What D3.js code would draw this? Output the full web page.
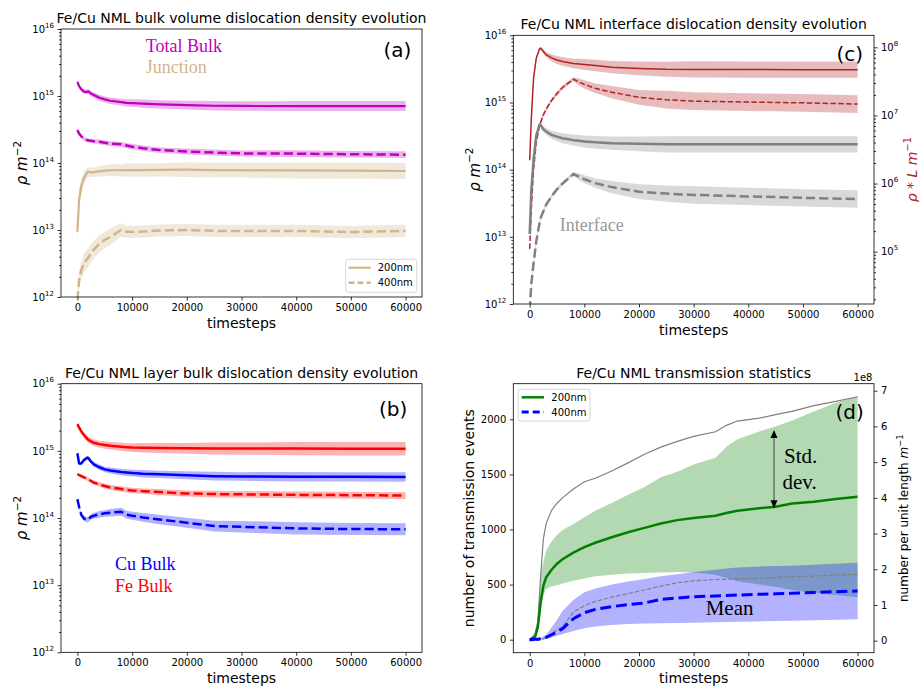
<!DOCTYPE html>
<html><head><meta charset="utf-8">
<script src="https://cdn.jsdelivr.net/npm/d3@7"></script>
<style>body{margin:0;background:#fff} svg{display:block}</style>
</head><body><svg id="chart" width="919" height="689"></svg>
<script>
// ---------------- DATA ----------------
const timesteps = [0,300,700,1200,1800,2000,2500,3000,4000,5000,6000,8000,9000,10000,12000,15000,20000,25000,30000,40000,50000,60000];
const xTickValues = [0,10000,20000,30000,40000,50000,60000];
const logMajorTicks = [1e12,1e13,1e14,1e15,1e16];

// (a) bulk volume dislocation density (m^-2); bands are half-widths in decades
const totalBulk200 = [1.63e15,1.41e15,1.26e15,1.16e15,1.15e15,1.17e15,1.08e15,1.035e15,9.4e14,8.9e14,8.5e14,8.1e14,7.9e14,7.85e14,7.7e14,7.5e14,7.3e14,7.15e14,7.1e14,7.08e14,7.08e14,7.08e14];
const totalBulk200Band = [0.03,0.03,0.035,0.035,0.035,0.035,0.04,0.04,0.045,0.045,0.05,0.05,0.055,0.055,0.06,0.06,0.065,0.07,0.07,0.075,0.075,0.075];
const totalBulk400 = [3.1e14,2.75e14,2.5e14,2.3e14,2.19e14,2.16e14,2.14e14,2.11e14,2.07e14,2.0e14,1.95e14,1.9e14,1.82e14,1.75e14,1.66e14,1.56e14,1.48e14,1.43e14,1.39e14,1.38e14,1.35e14,1.33e14];
const totalBulk400Band = [0.02,0.025,0.03,0.03,0.03,0.03,0.03,0.03,0.035,0.035,0.035,0.035,0.04,0.04,0.04,0.04,0.045,0.045,0.045,0.05,0.05,0.05];
const junction200 = [9.4e12,2.8e13,4.5e13,6.0e13,7.2e13,7.4e13,7.2e13,7.3e13,7.5e13,7.7e13,7.8e13,7.8e13,7.85e13,7.85e13,7.85e13,7.9e13,7.95e13,7.85e13,7.8e13,7.75e13,7.7e13,7.6e13];
const junction200Band = [0.15,0.15,0.12,0.1,0.08,0.07,0.07,0.07,0.08,0.08,0.09,0.09,0.1,0.1,0.1,0.1,0.11,0.11,0.11,0.12,0.12,0.12];
const junction400 = [8.9e11,1.78e12,2.5e12,3.2e12,3.7e12,3.9e12,4.5e12,5.1e12,6.2e12,7.1e12,7.9e12,1.0e13,9.4e12,9.4e12,9.5e12,9.8e12,1.0e13,9.7e12,9.7e12,9.7e12,9.3e12,9.7e12];
const junction400Band = [0.1,0.12,0.13,0.14,0.14,0.14,0.14,0.13,0.13,0.12,0.12,0.1,0.09,0.09,0.09,0.09,0.09,0.09,0.09,0.09,0.09,0.09];

// (b) layer bulk dislocation density
const feBulk200 = [2.5e15,2.24e15,1.95e15,1.72e15,1.51e15,1.46e15,1.38e15,1.32e15,1.26e15,1.22e15,1.19e15,1.15e15,1.135e15,1.12e15,1.115e15,1.10e15,1.09e15,1.085e15,1.08e15,1.08e15,1.077e15,1.077e15];
const feBulk200Band = [0.02,0.03,0.035,0.04,0.045,0.045,0.05,0.05,0.05,0.055,0.055,0.06,0.06,0.065,0.07,0.075,0.08,0.09,0.09,0.1,0.1,0.1];
const cuBulk200 = [9.2e14,6.5e14,6.5e14,7.3e14,7.9e14,7.85e14,6.9e14,6.3e14,5.7e14,5.3e14,5.1e14,4.84e14,4.75e14,4.68e14,4.57e14,4.47e14,4.32e14,4.2e14,4.15e14,4.12e14,4.1e14,4.07e14];
const cuBulk200Band = [0.02,0.02,0.025,0.025,0.03,0.03,0.03,0.035,0.04,0.04,0.045,0.05,0.05,0.05,0.055,0.055,0.06,0.065,0.065,0.07,0.07,0.07];
const feBulk400 = [4.5e14,4.37e14,4.22e14,4.04e14,3.85e14,3.76e14,3.55e14,3.36e14,3.16e14,2.99e14,2.85e14,2.7e14,2.63e14,2.57e14,2.51e14,2.43e14,2.32e14,2.27e14,2.25e14,2.21e14,2.19e14,2.16e14];
const feBulk400Band = [0.02,0.02,0.025,0.025,0.03,0.03,0.03,0.03,0.035,0.035,0.035,0.04,0.04,0.04,0.04,0.045,0.045,0.05,0.05,0.05,0.05,0.05];
const cuBulk400 = [1.9e14,1.47e14,1.12e14,9.8e13,9.4e13,9.5e13,1.05e14,1.08e14,1.135e14,1.175e14,1.2e14,1.24e14,1.12e14,1.08e14,1.02e14,9.5e13,8.5e13,7.6e13,7.4e13,7.0e13,6.85e13,6.8e13];
const cuBulk400Band = [0.03,0.03,0.03,0.035,0.04,0.04,0.04,0.045,0.05,0.05,0.055,0.06,0.06,0.06,0.065,0.07,0.075,0.08,0.085,0.09,0.09,0.09];

// (c) interface dislocation density; rhoL on right axis (m^-1), interface on left axis (m^-2)
const rhoL200 = [2.2e6,9.1e6,3.5e7,6.9e7,9.5e7,9.7e7,8.7e7,7.8e7,7.0e7,6.5e7,6.2e7,5.8e7,5.7e7,5.6e7,5.4e7,5.1e7,4.9e7,4.75e7,4.73e7,4.71e7,4.7e7,4.69e7];
const rhoL200Band = [0.01,0.01,0.01,0.015,0.02,0.02,0.03,0.04,0.05,0.06,0.065,0.07,0.075,0.08,0.085,0.09,0.1,0.11,0.12,0.12,0.12,0.12];
const rhoL400 = [1.1e5,4.3e5,1.6e6,4.0e6,7.1e6,7.9e6,1.02e7,1.23e7,1.66e7,2.1e7,2.57e7,3.4e7,3.1e7,2.85e7,2.5e7,2.19e7,1.84e7,1.7e7,1.62e7,1.57e7,1.53e7,1.47e7];
const rhoL400Band = [0.03,0.03,0.03,0.03,0.03,0.03,0.03,0.03,0.03,0.03,0.03,0.03,0.05,0.06,0.07,0.09,0.11,0.13,0.13,0.13,0.13,0.13];
const interface200 = [1.1e13,5e13,1.4e14,3.2e14,4.7e14,4.6e14,4.0e14,3.7e14,3.3e14,3.1e14,2.94e14,2.75e14,2.69e14,2.63e14,2.55e14,2.48e14,2.42e14,2.38e14,2.38e14,2.38e14,2.38e14,2.38e14];
const interface200Band = [0.02,0.02,0.02,0.02,0.03,0.03,0.04,0.05,0.06,0.07,0.075,0.08,0.085,0.09,0.095,0.1,0.11,0.12,0.12,0.12,0.12,0.12];
const interface400 = [8e11,2e12,4e12,8.5e12,1.6e13,1.9e13,2.4e13,3.0e13,4.0e13,5.1e13,6.2e13,8.6e13,7.85e13,7.2e13,6.3e13,5.5e13,4.7e13,4.4e13,4.2e13,4.0e13,3.8e13,3.66e13];
const interface400Band = [0.05,0.05,0.05,0.05,0.04,0.04,0.04,0.04,0.03,0.03,0.03,0.03,0.05,0.06,0.07,0.09,0.11,0.12,0.13,0.13,0.13,0.13];

// (d) transmission statistics
const timestepsD = [0,1000,1500,2000,2500,3000,4000,5000,6000,8000,10000,12000,15000,18000,21000,24000,27000,30000,34000,36000,38000,42000,45000,48000,52000,56000,60000];
const trans200Mean = [0,27,118,340,490,565,635,690,730,790,840,880,930,975,1015,1055,1085,1105,1125,1150,1170,1192,1207,1235,1252,1277,1298];
const trans200Low  = [0,20,80,250,400,460,485,495,510,535,555,575,590,600,605,610,615,610,590,560,530,500,480,450,425,405,385];
const trans200High = [0,35,160,600,700,810,890,950,995,1050,1110,1170,1240,1315,1385,1475,1525,1590,1650,1750,1820,1890,1935,1990,2070,2150,2210];
const trans400Mean = [0,3,5,8,12,22,45,70,100,190,245,275,300,318,333,365,378,390,397,400,405,412,416,421,428,436,442];
const trans400Low  = [0,0,0,0,2,5,20,35,50,80,105,120,133,142,146,150,152,154,158,160,162,166,169,172,176,180,185];
const trans400High = [0,8,12,20,30,45,110,180,260,360,430,465,500,528,550,575,595,615,635,645,655,665,668,672,680,690,699];
const perLength200 = [0,0.2,0.55,1.8,2.85,3.28,3.65,3.85,4.0,4.25,4.45,4.55,4.75,4.98,5.22,5.42,5.58,5.72,5.85,6.03,6.15,6.23,6.33,6.42,6.58,6.7,6.83]; // x1e8
const perLength400 = [0,0.01,0.02,0.03,0.05,0.1,0.2,0.3,0.39,0.8,0.98,1.1,1.22,1.32,1.42,1.53,1.62,1.68,1.71,1.72,1.73,1.75,1.77,1.79,1.81,1.84,1.86]; // x1e8
const transTicksLeft = [0,500,1000,1500,2000];
const transTicksRight = [0,1,2,3,4,5,6,7];
const stdArrow = {t: 44700, from: 1903, to: 1192};

// ---------------- DRAWING ----------------
const svg = d3.select("#chart");
const SANS = "DejaVu Sans, sans-serif";
const SERIF = "Liberation Serif, Times New Roman, serif";
const xDomain = [-3000, 63000];

const boxA = {l:61, r:422, t:29, b:297};
const boxB = {l:61, r:422, t:383.7, b:652.3};
const boxC = {l:513.3, r:874, t:35.3, b:304};
const boxD = {l:513.3, r:874, t:383.7, b:652.7};

const defs = svg.append("defs");
let clipCount = 0;
function clipFor(box){
  const id = "clip" + (clipCount++);
  defs.append("clipPath").attr("id", id).append("rect")
    .attr("x", box.l).attr("y", box.t).attr("width", box.r-box.l).attr("height", box.b-box.t);
  return `url(#${id})`;
}
function styleAxis(sel){
  sel.attr("font-family", null).attr("font-size", null);
  sel.select(".domain").remove();
  sel.selectAll(".tick line").attr("stroke", "#000").attr("stroke-width", 0.8);
  sel.selectAll(".tick text").attr("fill", "#000").attr("font-size", 10).attr("font-family", SANS);
}
function logLabels(sel){
  sel.selectAll(".tick text").each(function(d){
    const t = d3.select(this); t.text("");
    t.append("tspan").text("10");
    t.append("tspan").attr("font-size", 7).attr("dy", -5).text(Math.round(Math.log10(d)));
  });
}
function frame(box){
  svg.append("rect").attr("x", box.l).attr("y", box.t).attr("width", box.r-box.l).attr("height", box.b-box.t)
    .attr("fill", "none").attr("stroke", "#000").attr("stroke-width", 0.8);
}
function title(box, txt){
  svg.append("text").attr("x", (box.l+box.r)/2).attr("y", box.t-6.2).attr("text-anchor","middle")
    .attr("font-family", SANS).attr("font-size", 14).attr("fill","#000").text(txt);
}
function xAxis(box, x){
  const g = svg.append("g").attr("transform", `translate(0,${box.b})`)
    .call(d3.axisBottom(x).tickValues(xTickValues).tickSize(3.5).tickPadding(3.5).tickFormat(d3.format("d")));
  styleAxis(g);
  svg.append("text").attr("x", (box.l+box.r)/2).attr("y", box.b+30.5).attr("text-anchor","middle")
    .attr("font-family", SANS).attr("font-size", 14).attr("fill","#000").text("timesteps");
}
function logYAxis(box, y, side){
  const isLeft = side === "left";
  const axisFn = isLeft ? d3.axisLeft : d3.axisRight;
  const major = y.ticks().filter(v => Math.abs(Math.log10(v) - Math.round(Math.log10(v))) < 1e-9);
  const minor = y.ticks().filter(v => Math.abs(Math.log10(v) - Math.round(Math.log10(v))) >= 1e-9);
  const gMin = svg.append("g").attr("transform", `translate(${isLeft?box.l:box.r},0)`)
    .call(axisFn(y).tickValues(minor).tickSize(2).tickFormat(""));
  styleAxis(gMin);
  const gMaj = svg.append("g").attr("transform", `translate(${isLeft?box.l:box.r},0)`)
    .call(axisFn(y).tickValues(major).tickSize(3.5).tickPadding(3.5));
  styleAxis(gMaj); logLabels(gMaj);
}
function rotLabel(cx, cy, parts, size, color){
  const t = svg.append("text").attr("transform", `translate(${cx},${cy}) rotate(-90)`)
    .attr("text-anchor","middle").attr("dy","0.35em").attr("font-family", SANS).attr("font-size", size).attr("fill", color||"#000");
  parts.forEach(p => {
    const s = t.append("tspan").text(p.text);
    if (p.italic) s.attr("font-style","italic");
    if (p.sup) s.attr("font-size", size*0.7).attr("dy", -size*0.42);
  });
}
function drawSeries(plot, x, y, ts, vals, band, o){
  const area = d3.area()
    .x((d,i) => x(ts[i]))
    .y0((d,i) => y(d / Math.pow(10, band[i])))
    .y1((d,i) => y(d * Math.pow(10, band[i])));
  plot.append("path").datum(vals).attr("d", area).attr("fill", o.color).attr("fill-opacity", o.bandOpacity || 0.3).attr("stroke","none");
}
function drawLine(plot, x, y, ts, vals, o){
  const line = d3.line().x((d,i) => x(ts[i])).y(d => y(d));
  plot.append("path").datum(vals).attr("d", line).attr("fill","none")
    .attr("stroke", o.color).attr("stroke-width", o.width).attr("stroke-dasharray", o.dash || null)
    .attr("stroke-linejoin","round");
}
function serifText(x, y, txt, size, color){
  svg.append("text").attr("x", x).attr("y", y).attr("font-family", SERIF).attr("font-size", size).attr("fill", color).text(txt);
}
function panelTag(x, y, txt){
  svg.append("text").attr("x", x).attr("y", y).attr("font-family", SANS).attr("font-size", 20).attr("fill","#000").text(txt);
}

const MAG = "#bf00bf", TAN = "#d2b48c", RED = "#ff0000", BLUE = "#0000ff", FIRE = "#b22222", GREY = "#808080", GREEN = "#008000";

// ---------- Panel (a) ----------
(function(){
  const box = boxA;
  const x = d3.scaleLinear().domain(xDomain).range([box.l, box.r]);
  const y = d3.scaleLog().domain([1e12,1e16]).range([box.b, box.t]);
  const plot = svg.append("g").attr("clip-path", clipFor(box));
  drawSeries(plot, x, y, timesteps, totalBulk200, totalBulk200Band, {color: MAG});
  drawSeries(plot, x, y, timesteps, totalBulk400, totalBulk400Band, {color: MAG});
  drawSeries(plot, x, y, timesteps, junction200, junction200Band, {color: TAN});
  drawSeries(plot, x, y, timesteps, junction400, junction400Band, {color: TAN});
  drawLine(plot, x, y, timesteps, totalBulk200, {color: MAG, width: 2.2});
  drawLine(plot, x, y, timesteps, totalBulk400, {color: MAG, width: 2.5, dash: "9.25,4"});
  drawLine(plot, x, y, timesteps, junction200, {color: TAN, width: 2.2});
  drawLine(plot, x, y, timesteps, junction400, {color: TAN, width: 2.5, dash: "9.25,4"});
  frame(box); xAxis(box, x); logYAxis(box, y, "left");
  title(box, "Fe/Cu NML bulk volume dislocation density evolution");
  rotLabel(21.7, (box.t+box.b)/2, [{text:"ρ m", italic:true},{text:"−2", italic:false, sup:true}], 15);
  serifText(145.7, 51.5, "Total Bulk", 18, MAG);
  serifText(145.7, 72.5, "Junction", 18, TAN);
  panelTag(383.5, 57.4, "(a)");
  // legend
  const lg = svg.append("g");
  lg.append("rect").attr("x",345.7).attr("y",259.3).attr("width",71).attr("height",33).attr("rx",2.5)
    .attr("fill","#fff").attr("fill-opacity",0.8).attr("stroke","#ccc").attr("stroke-width",0.8);
  lg.append("line").attr("x1",348.5).attr("x2",370.7).attr("y1",267.7).attr("y2",267.7).attr("stroke",TAN).attr("stroke-width",2.2);
  lg.append("line").attr("x1",348.5).attr("x2",370.7).attr("y1",282.7).attr("y2",282.7).attr("stroke",TAN).attr("stroke-width",2.5).attr("stroke-dasharray","6,3");
  lg.append("text").attr("x",377.7).attr("y",271.3).attr("font-family",SANS).attr("font-size",10).text("200nm");
  lg.append("text").attr("x",377.7).attr("y",286.3).attr("font-family",SANS).attr("font-size",10).text("400nm");
})();

// ---------- Panel (b) ----------
(function(){
  const box = boxB;
  const x = d3.scaleLinear().domain(xDomain).range([box.l, box.r]);
  const y = d3.scaleLog().domain([1e12,1e16]).range([box.b, box.t]);
  const plot = svg.append("g").attr("clip-path", clipFor(box));
  drawSeries(plot, x, y, timesteps, feBulk200, feBulk200Band, {color: RED});
  drawSeries(plot, x, y, timesteps, cuBulk200, cuBulk200Band, {color: BLUE});
  drawSeries(plot, x, y, timesteps, feBulk400, feBulk400Band, {color: RED});
  drawSeries(plot, x, y, timesteps, cuBulk400, cuBulk400Band, {color: BLUE});
  drawLine(plot, x, y, timesteps, feBulk200, {color: RED, width: 2.5});
  drawLine(plot, x, y, timesteps, cuBulk200, {color: BLUE, width: 2.5});
  drawLine(plot, x, y, timesteps, feBulk400, {color: RED, width: 2.5, dash: "9.25,4"});
  drawLine(plot, x, y, timesteps, cuBulk400, {color: BLUE, width: 2.5, dash: "9.25,4"});
  frame(box); xAxis(box, x); logYAxis(box, y, "left");
  title(box, "Fe/Cu NML layer bulk dislocation density evolution");
  rotLabel(21.7, (box.t+box.b)/2, [{text:"ρ m", italic:true},{text:"−2", sup:true}], 15);
  serifText(115, 570, "Cu Bulk", 18, BLUE);
  serifText(115, 591.7, "Fe Bulk", 18, RED);
  panelTag(379, 415.7, "(b)");
})();

// ---------- Panel (c) ----------
(function(){
  const box = boxC;
  const x = d3.scaleLinear().domain(xDomain).range([box.l, box.r]);
  const y = d3.scaleLog().domain([1e12,1e16]).range([box.b, box.t]);
  const yR = d3.scaleLog().domain([Math.pow(10,4.232), Math.pow(10,8.176)]).range([box.b, box.t]);
  const plot = svg.append("g").attr("clip-path", clipFor(box));
  drawSeries(plot, x, yR, timesteps, rhoL200, rhoL200Band, {color: FIRE, bandOpacity: 0.3});
  drawSeries(plot, x, yR, timesteps, rhoL400, rhoL400Band, {color: FIRE, bandOpacity: 0.3});
  drawSeries(plot, x, y, timesteps, interface200, interface200Band, {color: GREY, bandOpacity: 0.3});
  drawSeries(plot, x, y, timesteps, interface400, interface400Band, {color: GREY, bandOpacity: 0.3});
  drawLine(plot, x, yR, timesteps, rhoL200, {color: FIRE, width: 1.5});
  drawLine(plot, x, yR, timesteps, rhoL400, {color: FIRE, width: 1.5, dash: "5.5,2.4"});
  drawLine(plot, x, y, timesteps, interface200, {color: GREY, width: 2.5});
  drawLine(plot, x, y, timesteps, interface400, {color: GREY, width: 2.5, dash: "9.25,4"});
  frame(box); xAxis(box, x); logYAxis(box, y, "left"); logYAxis(box, yR, "right");
  title(box, "Fe/Cu NML interface dislocation density evolution");
  rotLabel(474.5, (box.t+box.b)/2, [{text:"ρ m", italic:true},{text:"−2", sup:true}], 15);
  rotLabel(912, (box.t+box.b)/2, [{text:"ρ * L m", italic:true},{text:"−1", sup:true}], 14, FIRE);
  serifText(559.7, 231, "Interface", 18, "#999999");
  panelTag(836.5, 60.7, "(c)");
})();

// ---------- Panel (d) ----------
(function(){
  const box = boxD;
  const x = d3.scaleLinear().domain(xDomain).range([box.l, box.r]);
  const y = d3.scaleLinear().domain([-118, 2323]).range([box.b, box.t]);
  const yR = d3.scaleLinear().domain([-0.336, 7.196]).range([box.b, box.t]);
  const plot = svg.append("g").attr("clip-path", clipFor(box));
  const band = (lo, hi) => d3.area().x((d,i)=>x(timestepsD[i])).y0((d,i)=>y(lo[i])).y1((d,i)=>y(hi[i]));
  const line = (sc) => d3.line().x((d,i)=>x(timestepsD[i])).y(d=>sc(d));
  plot.append("path").datum(trans200Mean).attr("d", band(trans200Low, trans200High)).attr("fill", GREEN).attr("fill-opacity", 0.3);
  plot.append("path").datum(perLength200).attr("d", line(yR)).attr("fill","none").attr("stroke", GREY).attr("stroke-width",1.2);
  plot.append("path").datum(trans200Mean).attr("d", line(y)).attr("fill","none").attr("stroke", GREEN).attr("stroke-width",2.5);
  plot.append("path").datum(trans400Mean).attr("d", band(trans400Low, trans400High)).attr("fill", BLUE).attr("fill-opacity", 0.3);
  plot.append("path").datum(perLength400).attr("d", line(yR)).attr("fill","none").attr("stroke", GREY).attr("stroke-width",1.2).attr("stroke-dasharray","4.4,1.9");
  plot.append("path").datum(trans400Mean).attr("d", line(y)).attr("fill","none").attr("stroke", BLUE).attr("stroke-width",3).attr("stroke-dasharray","11,4.8");
  frame(box); xAxis(box, x);
  const gl = svg.append("g").attr("transform", `translate(${box.l},0)`)
    .call(d3.axisLeft(y).tickValues(transTicksLeft).tickSize(3.5).tickPadding(3.5).tickFormat(d3.format("d")));
  styleAxis(gl);
  const gr = svg.append("g").attr("transform", `translate(${box.r},0)`)
    .call(d3.axisRight(yR).tickValues(transTicksRight).tickSize(3.5).tickPadding(3.5).tickFormat(d3.format("d")));
  styleAxis(gr);
  svg.append("text").attr("x", 872.5).attr("y", 380.7).attr("text-anchor","end").attr("font-family",SANS).attr("font-size",10).text("1e8");
  title(box, "Fe/Cu NML transmission statistics");
  rotLabel(469, (box.t+box.b)/2, [{text:"number of transmission events"}], 14);
  rotLabel(904, (box.t+box.b)/2, [{text:"number per unit length "},{text:"m", italic:true},{text:"−1", sup:true}], 12);
  // std arrow
  const ax = x(stdArrow.t), yTop = y(stdArrow.from), yBot = y(stdArrow.to);
  svg.append("line").attr("x1",ax).attr("x2",ax).attr("y1",yTop+7).attr("y2",yBot-7).attr("stroke","#444").attr("stroke-width",1);
  svg.append("path").attr("d",`M${ax},${yTop} L${ax-3.5},${yTop+8} L${ax+3.5},${yTop+8} Z`).attr("fill","#000");
  svg.append("path").attr("d",`M${ax},${yBot} L${ax-3.5},${yBot-8} L${ax+3.5},${yBot-8} Z`).attr("fill","#000");
  serifText(784, 463, "Std.", 21, "#000");
  serifText(782.5, 488.5, "dev.", 21, "#000");
  serifText(705.7, 615, "Mean", 21, "#000");
  panelTag(835.5, 419, "(d)");
  // legend
  const lg = svg.append("g");
  lg.append("rect").attr("x",518.3).attr("y",389.3).attr("width",71.7).attr("height",31.7).attr("rx",2.5)
    .attr("fill","#fff").attr("fill-opacity",0.8).attr("stroke","#ccc").attr("stroke-width",0.8);
  lg.append("line").attr("x1",521.7).attr("x2",544).attr("y1",397.3).attr("y2",397.3).attr("stroke",GREEN).attr("stroke-width",2.5);
  lg.append("line").attr("x1",521.7).attr("x2",544).attr("y1",412).attr("y2",412).attr("stroke",BLUE).attr("stroke-width",3).attr("stroke-dasharray","7,4");
  lg.append("text").attr("x",551.3).attr("y",401).attr("font-family",SANS).attr("font-size",10).text("200nm");
  lg.append("text").attr("x",551.3).attr("y",415.8).attr("font-family",SANS).attr("font-size",10).text("400nm");
})();
</script></body></html>
